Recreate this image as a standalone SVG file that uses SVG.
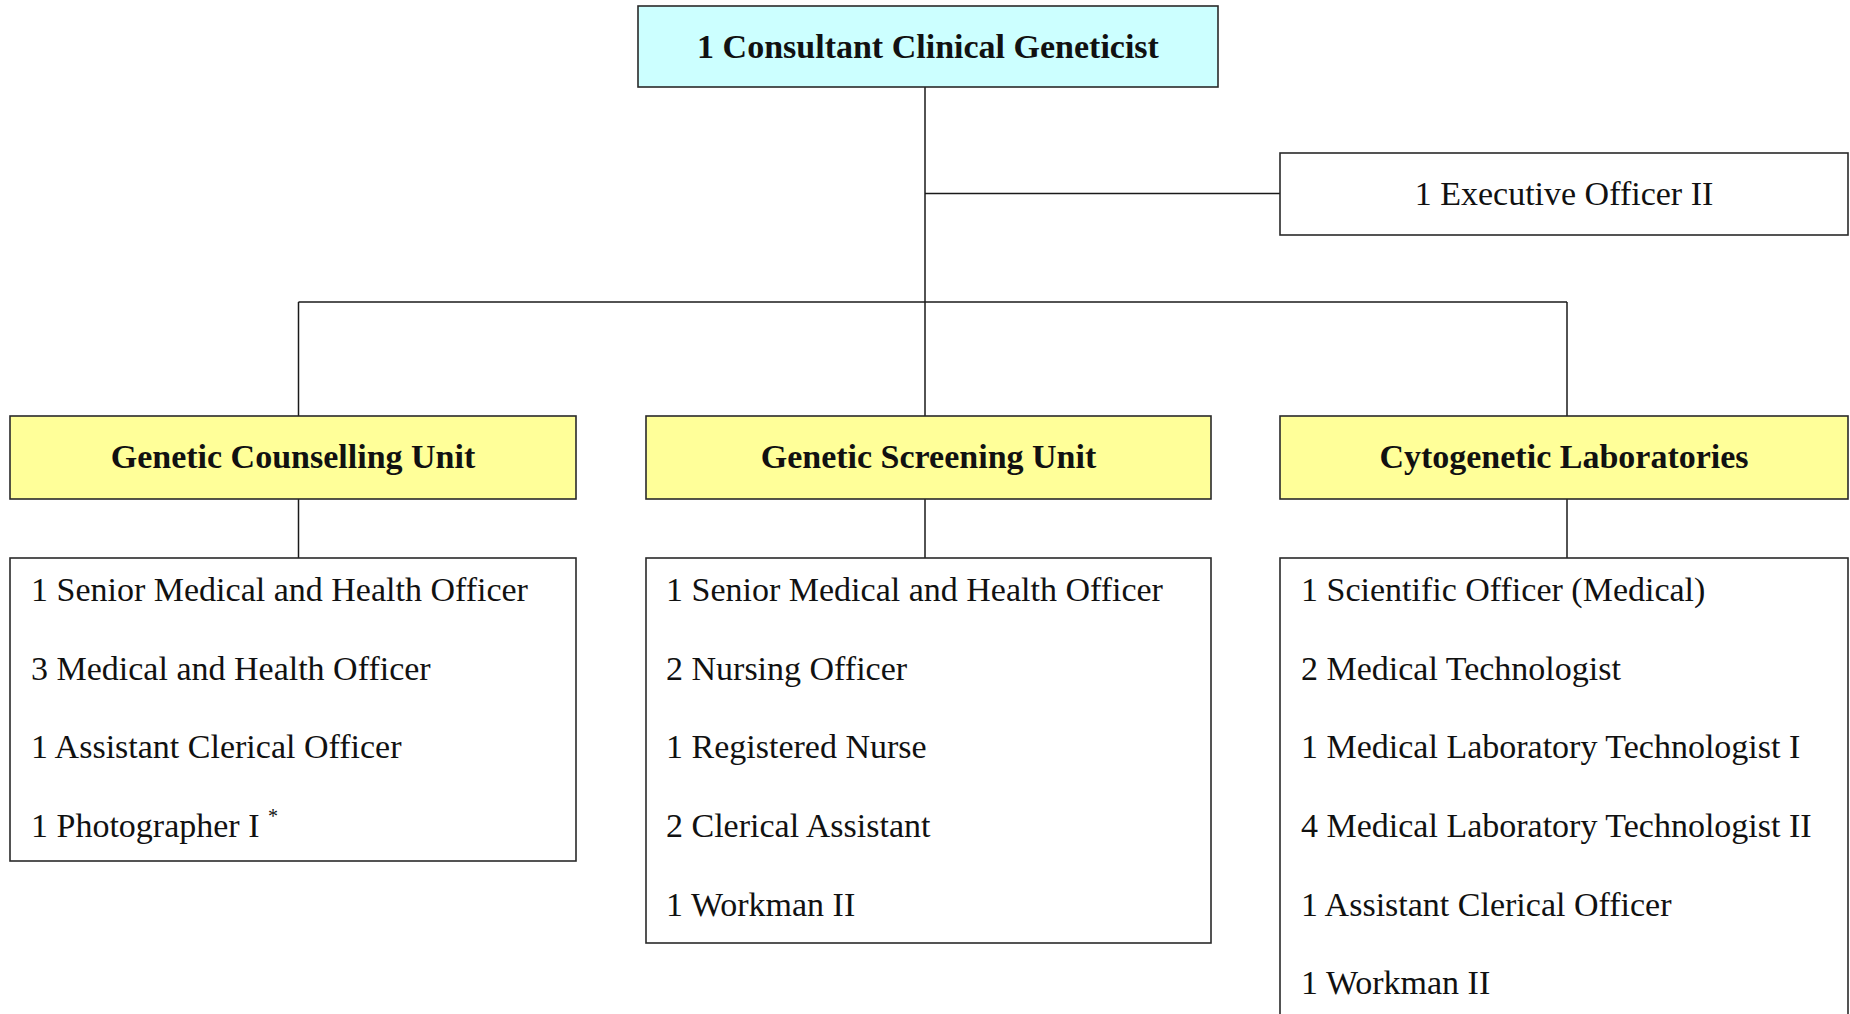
<svg xmlns="http://www.w3.org/2000/svg" width="1850" height="1014" viewBox="0 0 1850 1014">
<style>
.box{stroke:#2a2a2a;stroke-width:1.6}
.top{fill:#ccffff}
.unit{fill:#ffff99}
.plain{fill:#ffffff}
.conn line{stroke:#1a1a1a;stroke-width:1.5}
text{font-family:"Liberation Serif","Times New Roman",serif;font-size:34px;fill:#111}
.b{font-weight:bold;text-anchor:middle}
.c{text-anchor:middle}
.sup{font-size:20px}
</style>
<rect width="1850" height="1014" fill="#ffffff"/>
<g id="connectors" class="conn">
<line x1="925" y1="87" x2="925" y2="416"/>
<line x1="925" y1="193.5" x2="1280" y2="193.5"/>
<line x1="298.5" y1="302" x2="1567" y2="302"/>
<line x1="298.5" y1="302" x2="298.5" y2="416"/>
<line x1="1567" y1="302" x2="1567" y2="416"/>
<line x1="298.5" y1="499" x2="298.5" y2="558"/>
<line x1="925" y1="499" x2="925" y2="558"/>
<line x1="1567" y1="499" x2="1567" y2="558"/>
</g>
<g id="consultant">
<rect class="box top" x="638" y="6" width="580" height="81"/>
<text class="b" x="928" y="58">1 Consultant Clinical Geneticist</text>
</g>
<g id="executive">
<rect class="box plain" x="1280" y="153" width="568" height="82"/>
<text class="c" x="1564" y="205">1 Executive Officer II</text>
</g>
<g id="counselling">
<rect class="box unit" x="10" y="416" width="566" height="83"/>
<text class="b" x="293" y="468">Genetic Counselling Unit</text>
</g>
<g id="screening">
<rect class="box unit" x="646" y="416" width="565" height="83"/>
<text class="b" x="928.5" y="468">Genetic Screening Unit</text>
</g>
<g id="cytogenetic">
<rect class="box unit" x="1280" y="416" width="568" height="83"/>
<text class="b" x="1564" y="468">Cytogenetic Laboratories</text>
</g>
<g id="counselling-staff">
<rect class="box plain" x="10" y="558" width="566" height="303"/>
<text x="31" y="601">1 Senior Medical and Health Officer</text>
<text x="31" y="679.5">3 Medical and Health Officer</text>
<text x="31" y="758">1 Assistant Clerical Officer</text>
<text x="31" y="836.5">1 Photographer I <tspan class="sup" dy="-14">*</tspan></text>
</g>
<g id="screening-staff">
<rect class="box plain" x="646" y="558" width="565" height="385"/>
<text x="666" y="601">1 Senior Medical and Health Officer</text>
<text x="666" y="679.5">2 Nursing Officer</text>
<text x="666" y="758">1 Registered Nurse</text>
<text x="666" y="836.5">2 Clerical Assistant</text>
<text x="666" y="915.5">1 Workman II</text>
</g>
<g id="cytogenetic-staff">
<rect class="box plain" x="1280" y="558" width="568" height="470"/>
<text x="1301" y="601">1 Scientific Officer (Medical)</text>
<text x="1301" y="679.5">2 Medical Technologist</text>
<text x="1301" y="758">1 Medical Laboratory Technologist I</text>
<text x="1301" y="836.5">4 Medical Laboratory Technologist II</text>
<text x="1301" y="915.5">1 Assistant Clerical Officer</text>
<text x="1301" y="994">1 Workman II</text>
</g>
</svg>
